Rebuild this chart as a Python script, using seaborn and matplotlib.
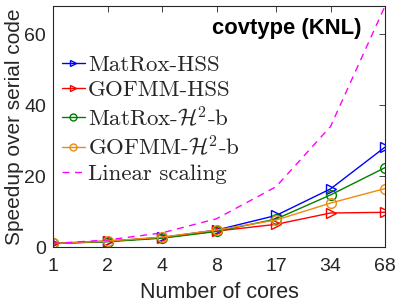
import numpy as np
import pandas as pd
import matplotlib
matplotlib.use('Agg')
import matplotlib.pyplot as plt
import seaborn as sns

# ── Data ──────────────────────────────────────────────────────────────────────
cores = [1, 2, 4, 8, 17, 34, 68]
matrox_hss = [1.0, 1.6, 2.7, 4.8, 8.9, 16.4, 28.2]
gofmm_hss = [1.0, 1.7, 2.6, 4.5, 6.4, 9.6, 9.8]
matrox_h2b = [1.0, 1.5, 2.5, 4.4, 7.9, 14.7, 22.4]
gofmm_h2b = [1.0, 1.7, 2.8, 4.8, 7.6, 12.4, 16.5]
linear = [1, 2, 4, 8, 17, 34, 68]

labels = ["MatRox-HSS", "GOFMM-HSS", r"MatRox-$\mathcal{H}^2$-b",
          r"GOFMM-$\mathcal{H}^2$-b", "Linear scaling"]

sns.set_style("white")
plt.rcParams['font.family'] = ['Liberation Sans', 'DejaVu Sans']
plt.rcParams['mathtext.fontset'] = 'cm'

fig = plt.figure(figsize=(3.99, 3.02), dpi=100)
ax = fig.add_axes([0.133, 0.182, 0.832, 0.798])

series = [
    (matrox_hss, "#0000FF", ">"),
    (gofmm_hss, "#FF0000", ">"),
    (matrox_h2b, "#008000", "o"),
    (gofmm_h2b, "#EE8A12", "o"),
]
for (vals, col, mk), lab in zip(series, labels):
    sns.lineplot(x=cores, y=vals, ax=ax, color=col, marker=mk,
                 markersize=7, markerfacecolor='none', markeredgecolor=col,
                 markeredgewidth=1.0, linewidth=1.0, label=lab)
sns.lineplot(x=cores, y=linear, ax=ax, color="#FF00FF", linestyle=(0, (5, 4)),
             linewidth=1.0, label=labels[4])

ax.set_xscale('log', base=2)
ax.set_xlim(1, 68)
ax.set_ylim(0, 68)
ax.set_xticks(cores)
ax.set_xticklabels([str(c) for c in cores])
ax.minorticks_off()
ax.set_yticks([0, 20, 40, 60])
ax.tick_params(direction='in', length=4, width=0.6, top=True, right=True,
               labelsize=14, colors='#262626')
ax.tick_params(axis='x', pad=8)
ax.tick_params(axis='y', pad=5)
for s in ax.spines.values():
    s.set_color('#262626')
    s.set_linewidth(0.8)

ax.set_xlabel("Number of cores", fontsize=15.5, color='#262626', labelpad=5)
ax.set_ylabel("Speedup over serial code", fontsize=15, color='#262626',
              labelpad=0)

ax.text(0.705, 0.905, "covtype (KNL)", transform=ax.transAxes, fontsize=15.8,
        fontweight='bold', ha='center', va='center', color='black')

leg = ax.legend(loc='upper left', bbox_to_anchor=(-0.015, 0.855), frameon=False,
                prop={'family': 'cmr10', 'size': 16.5}, handlelength=1.0,
                handletextpad=0.15, labelspacing=0.22, borderaxespad=0.2)
for h in leg.legend_handles:
    h.set_markersize(5)

plt.savefig("out.png", dpi=100, facecolor="white")
plt.close()
